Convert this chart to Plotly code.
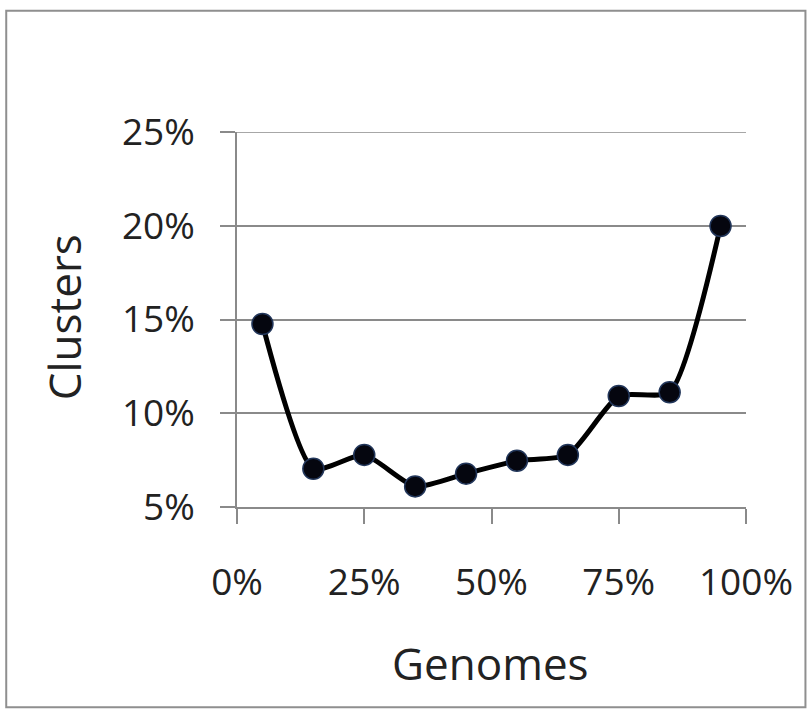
import plotly.graph_objects as go

# Data
genomes = [0.05, 0.15, 0.25, 0.35, 0.45, 0.55, 0.65, 0.75, 0.85, 0.95]
clusters = [0.1476, 0.0704, 0.0778, 0.0610, 0.0678, 0.0747, 0.0778, 0.1092, 0.1112, 0.1999]
x_ticks = [0, 0.25, 0.5, 0.75, 1.0]
x_tick_labels = ["0%", "25%", "50%", "75%", "100%"]
y_ticks = [0.05, 0.10, 0.15, 0.20, 0.25]
y_tick_labels = ["5%", "10%", "15%", "20%", "25%"]

FONT = "Open Sans"
GRID = "#8a8a8a"
TXT = "#222222"

fig = go.Figure()
fig.add_trace(go.Scatter(
    x=genomes, y=clusters,
    mode="lines+markers",
    line=dict(color="#000000", width=5, shape="spline", smoothing=0.6),
    marker=dict(size=21, color="#05060f", line=dict(color="#22365a", width=1.5)),
    showlegend=False,
    cliponaxis=False,
))

W, H = 808, 713
L, R, T, B = 237, 61.5, 131.5, 205.7
pw = W - L - R
ph = H - T - B

def px2paper_x(px):
    return (px - L) / pw

def px2paper_y(py):
    return (H - B - py) / ph

fig.update_layout(
    width=W, height=H,
    margin=dict(l=L, r=R, t=T, b=B, autoexpand=False),
    paper_bgcolor="white",
    plot_bgcolor="white",
    font=dict(family=FONT, color=TXT),
    xaxis=dict(
        range=[0, 1], tickvals=x_ticks, ticktext=x_tick_labels,
        showgrid=False, zeroline=False,
        showline=True, linecolor=GRID, linewidth=1.5,
        ticks="outside", ticklen=15, tickwidth=1.5, tickcolor=GRID,
        tickfont=dict(size=37, family=FONT, color=TXT),
        ticklabelstandoff=27,
        fixedrange=True,
    ),
    yaxis=dict(
        range=[y_ticks[0], y_ticks[-1]], tickvals=y_ticks, ticktext=y_tick_labels,
        showgrid=True, gridcolor=GRID, gridwidth=1.5,
        zeroline=False,
        showline=True, linecolor=GRID, linewidth=1.5,
        ticks="outside", ticklen=15, tickwidth=1.5, tickcolor=GRID,
        tickfont=dict(size=37, family=FONT, color=TXT),
        ticklabelstandoff=18,
        fixedrange=True,
    ),
    annotations=[
        dict(text="Clusters", textangle=-90, xref="paper", yref="paper",
             x=px2paper_x(64), y=px2paper_y(317), showarrow=False,
             xanchor="center", yanchor="middle",
             font=dict(size=44, family=FONT, color=TXT)),
        dict(text="Genomes", xref="paper", yref="paper",
             x=px2paper_x(491), y=px2paper_y(664), showarrow=False,
             xanchor="center", yanchor="middle",
             font=dict(size=44, family=FONT, color=TXT)),
    ],
    shapes=[
        dict(type="rect", xref="paper", yref="paper",
             x0=px2paper_x(6), x1=px2paper_x(806),
             y0=px2paper_y(708), y1=px2paper_y(10),
             line=dict(color="#8f8f8f", width=2), fillcolor="rgba(0,0,0,0)",
             layer="below"),
        # top gridline (at the range edge, not drawn by the axis itself)
        dict(type="line", xref="paper", yref="y",
             x0=0, x1=1, y0=y_ticks[-1], y1=y_ticks[-1],
             line=dict(color=GRID, width=1.5), layer="below"),
    ],
)

fig.write_html("out.html")
